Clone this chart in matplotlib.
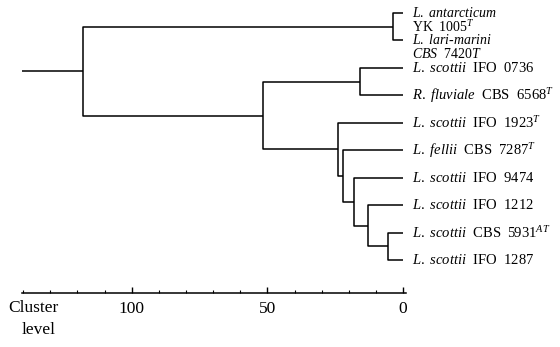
import matplotlib
matplotlib.use("Agg")
import matplotlib.pyplot as plt

plt.rcParams['font.family'] = ['Liberation Serif', 'DejaVu Serif']
plt.rcParams['mathtext.fontset'] = 'custom'
plt.rcParams['mathtext.rm'] = 'Liberation Serif'
plt.rcParams['mathtext.it'] = 'Liberation Serif:italic'

# leaves, top to bottom (second line for the two-line labels in strain_line2)
leaf_labels = [
    r"$\mathit{L.\ antarcticum}$",
    r"$\mathit{L.\ lari\text{-}marini}$",
    r"$\mathit{L.\ scottii}$  IFO  0736",
    r"$\mathit{R.\ fluviale}$  CBS  6568$^{T}$",
    r"$\mathit{L.\ scottii}$  IFO  1923$^{T}$",
    r"$\mathit{L.\ fellii}$  CBS  7287$^{T}$",
    r"$\mathit{L.\ scottii}$  IFO  9474",
    r"$\mathit{L.\ scottii}$  IFO  1212",
    r"$\mathit{L.\ scottii}$  CBS  5931$^{AT}$",
    r"$\mathit{L.\ scottii}$  IFO  1287",
]
strain_line2 = {0: r"YK  1005$^{T}$", 1: r"$\mathit{CBS\ \ 7420T}$"}
# merges: (child a, child b, cluster level); new ids start at len(leaf_labels)
merge_a = [0, 2, 8, 7, 6, 5, 4, 11, 10]
merge_b = [1, 3, 9, 12, 13, 14, 15, 16, 17]
merge_level = [3.7, 16, 5.5, 13, 18, 22, 24, 51.5, 118]
root_stem = 140.5

fig = plt.figure(figsize=(5.6, 3.47), dpi=100)
ax = fig.add_axes([0, (347 - 293) / 347, 1, 293 / 347])
ax.set_xlim(148.5, -57.8)
ax.set_ylim(10.2, -0.474)

n = len(leaf_labels)
pos = {i: (0.0, float(i)) for i in range(n)}
kw = dict(color='black', lw=1.1, solid_capstyle='butt')
for k, (a, b, h) in enumerate(zip(merge_a, merge_b, merge_level)):
    xa, ya = pos[a]
    xb, yb = pos[b]
    ax.plot([xa, h, h, xb], [ya, ya, yb, yb], **kw)
    pos[n + k] = (h, (ya + yb) / 2)

rx, ry = pos[n + len(merge_level) - 1]
ax.plot([rx, root_stem], [ry, ry], **kw)

for i, lab in enumerate(leaf_labels):
    fs = 10 if i in strain_line2 else 10.5
    ax.text(-3.3, i, lab, fontsize=fs, va='center', ha='left')
    if i in strain_line2:
        ax.text(-3.3, i + 0.5, strain_line2[i], fontsize=fs, va='center', ha='left')

for s in ['top', 'left', 'right']:
    ax.spines[s].set_visible(False)
ax.spines['bottom'].set_bounds(-1, root_stem)
ax.spines['bottom'].set_linewidth(1.1)
ax.set_yticks([])
ax.set_xticks([0, 50, 100])
ax.set_xticks([t for t in range(10, 141, 10) if t % 50], minor=True)
ax.tick_params(axis='x', which='major', direction='in', length=4, width=1, pad=6, labelsize=12.5)
ax.tick_params(axis='x', which='minor', direction='in', length=2, width=0.8)
ax.patch.set_visible(False)

fig.text(8 / 560, 1 - 308 / 347, "Cluster", fontsize=12.5, va='center', ha='left')
fig.text(22 / 560, 1 - 330 / 347, "level", fontsize=12.5, va='center', ha='left')

fig.savefig("out.png", dpi=100)
